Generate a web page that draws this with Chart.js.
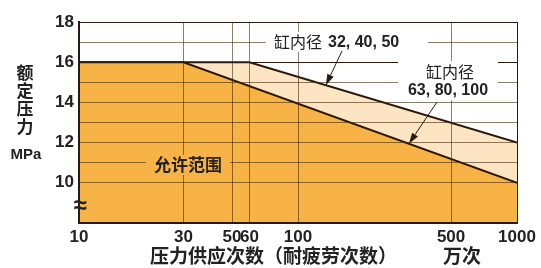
<!doctype html>
<html lang="zh">
<head>
<meta charset="utf-8">
<title>额定压力与压力供应次数</title>
<script src="https://cdn.jsdelivr.net/npm/chart.js@4/dist/chart.umd.min.js"></script>
<style>
  html, body { margin: 0; padding: 0; background: #fff; }
</style>
</head>
<body>
<canvas id="chart" width="541" height="268"></canvas>
<script>
// 压力供应次数 (万次) ticks on the log axis
const xTicks = [10, 30, 50, 60, 100, 500, 1000];
// labelled pressure ticks (MPa)
const yLabels = [10, 12, 14, 16, 18];
// 缸内径 32, 40, 50
const smallBoreX = [10, 60, 1000];
const smallBoreY = [16, 16, 12];
// 缸内径 63, 80, 100
const largeBoreX = [10, 30, 1000];
const largeBoreY = [16, 16, 10];

const ORANGE = '#f8b347';
const PEACH = '#fde4c3';
const INK = '#2b1a0b';
const GRID = 'rgba(70,40,10,0.6)';
const NUM_FONT = '"Liberation Sans", "Noto Sans CJK SC", sans-serif';

function toPoints(xs, ys) {
  return xs.map((x, i) => ({ x: x, y: ys[i] }));
}

// value of a polyline at x, interpolated in log space
function lineAt(xs, ys, x) {
  for (let i = 0; i < xs.length - 1; i++) {
    if (x >= xs[i] && x <= xs[i + 1]) {
      const t = (Math.log10(x) - Math.log10(xs[i])) / (Math.log10(xs[i + 1]) - Math.log10(xs[i]));
      return ys[i] + t * (ys[i + 1] - ys[i]);
    }
  }
  return ys[ys.length - 1];
}

function arrow(ctx, x0, y0, x1, y1) {
  const a = Math.atan2(y1 - y0, x1 - x0);
  const len = 11, hw = 3.5;
  ctx.strokeStyle = INK;
  ctx.fillStyle = INK;
  ctx.lineWidth = 1;
  ctx.beginPath();
  ctx.moveTo(x0, y0);
  ctx.lineTo(x1 - Math.cos(a) * len, y1 - Math.sin(a) * len);
  ctx.stroke();
  ctx.beginPath();
  ctx.moveTo(x1, y1);
  ctx.lineTo(x1 - Math.cos(a) * len - Math.sin(a) * hw, y1 - Math.sin(a) * len + Math.cos(a) * hw);
  ctx.lineTo(x1 - Math.cos(a) * len + Math.sin(a) * hw, y1 - Math.sin(a) * len - Math.cos(a) * hw);
  ctx.closePath();
  ctx.fill();
}

const annotations = {
  id: 'annotations',
  afterDraw(chart) {
    const ctx = chart.ctx;
    const xs = chart.scales.x, ys = chart.scales.y;
    ctx.save();
    ctx.textBaseline = 'middle';

    // y axis title, stacked
    ctx.fillStyle = '#222';
    ctx.textAlign = 'center';
    ctx.font = 'bold 17px "Noto Sans CJK SC"';
    ['额', '定', '压', '力'].forEach((c, i) => ctx.fillText(c, 25, 73 + i * 18));
    ctx.font = 'bold 15px ' + NUM_FONT;
    ctx.fillText('MPa', 26, 155);

    // x axis title
    ctx.font = 'bold 19px "Noto Sans CJK SC"';
    ctx.textAlign = 'left';
    ctx.fillText('压力供应次数（耐疲劳次数）', 150, 256);
    ctx.textAlign = 'center';
    ctx.fillText('万次', 462, 256);

    // break mark
    ctx.font = 'bold 24px ' + NUM_FONT;
    ctx.fillText('≈', 80, 206);

    // 允许范围
    ctx.fillStyle = ORANGE;
    ctx.fillRect(146, 155, 84, 20);
    ctx.fillStyle = '#222';
    ctx.font = 'bold 17px "Noto Sans CJK SC"';
    ctx.fillText('允许范围', 188, 165);

    // label for small bores
    ctx.fillStyle = '#fff';
    ctx.fillRect(266, 32, 162, 20);
    ctx.fillStyle = '#222';
    ctx.textAlign = 'left';
    ctx.font = '16px "Noto Sans CJK SC"';
    ctx.fillText('缸内径', 274, 42);
    ctx.font = 'bold 16px ' + NUM_FONT;
    ctx.fillText('32, 40, 50', 328, 43);
    const t1 = 134;
    arrow(ctx, 342, 51, xs.getPixelForValue(t1), ys.getPixelForValue(lineAt(smallBoreX, smallBoreY, t1)));

    // label for large bores
    ctx.fillStyle = '#fff';
    ctx.fillRect(398, 61, 100, 39);
    ctx.fillStyle = '#222';
    ctx.textAlign = 'center';
    ctx.font = '16px "Noto Sans CJK SC"';
    ctx.fillText('缸内径', 450, 72);
    ctx.font = 'bold 16px ' + NUM_FONT;
    ctx.fillText('63, 80, 100', 448, 91);
    const t2 = 321;
    arrow(ctx, 437, 102, xs.getPixelForValue(t2), ys.getPixelForValue(lineAt(largeBoreX, largeBoreY, t2)));

    ctx.restore();
  }
};

new Chart(document.getElementById('chart'), {
  type: 'line',
  data: {
    datasets: [
      {
        label: '缸内径 63, 80, 100',
        data: toPoints(largeBoreX, largeBoreY),
        borderColor: INK,
        backgroundColor: ORANGE,
        borderWidth: 2,
        pointRadius: 0,
        tension: 0,
        fill: 'start'
      },
      {
        label: '缸内径 32, 40, 50',
        data: toPoints(smallBoreX, smallBoreY),
        borderColor: INK,
        backgroundColor: PEACH,
        borderWidth: 2,
        pointRadius: 0,
        tension: 0,
        fill: 'start'
      }
    ]
  },
  options: {
    responsive: false,
    animation: false,
    devicePixelRatio: 1,
    layout: { padding: { top: 22, right: 24, left: 0, bottom: 0 } },
    plugins: {
      legend: { display: false },
      tooltip: { enabled: false }
    },
    scales: {
      x: {
        type: 'logarithmic',
        min: 10,
        max: 1000,
        afterBuildTicks: (s) => { s.ticks = xTicks.map(v => ({ value: v })); },
        afterFit: (s) => { s.height = 45; },
        ticks: {
          autoSkip: false,
          maxRotation: 0,
          padding: 4,
          color: '#222',
          font: { family: NUM_FONT, size: 17, weight: 'bold' },
          callback: (v) => String(v)
        },
        grid: {
          z: 1,
          drawTicks: false,
          color: (c) => (c.tick && c.tick.value === 1000) ? INK : GRID
        },
        border: { z: 2, color: INK, width: 2 }
      },
      y: {
        min: 8,
        max: 18,
        afterFit: (s) => { s.width = 79; },
        ticks: {
          stepSize: 1,
          maxTicksLimit: 20,
          autoSkip: false,
          padding: 5,
          color: '#222',
          font: { family: NUM_FONT, size: 17, weight: 'bold' },
          callback: (v) => yLabels.includes(v) ? String(v) : ''
        },
        grid: {
          z: 1,
          drawTicks: false,
          color: (c) => {
            if (!c.tick) return GRID;
            if (c.tick.value === 9) return 'rgba(0,0,0,0)';
            if (c.tick.value === 18 || c.tick.value === 16) return INK;
            return GRID;
          }
        },
        border: { z: 2, color: INK, width: 2 }
      }
    }
  },
  plugins: [annotations]
});
</script>
</body>
</html>
